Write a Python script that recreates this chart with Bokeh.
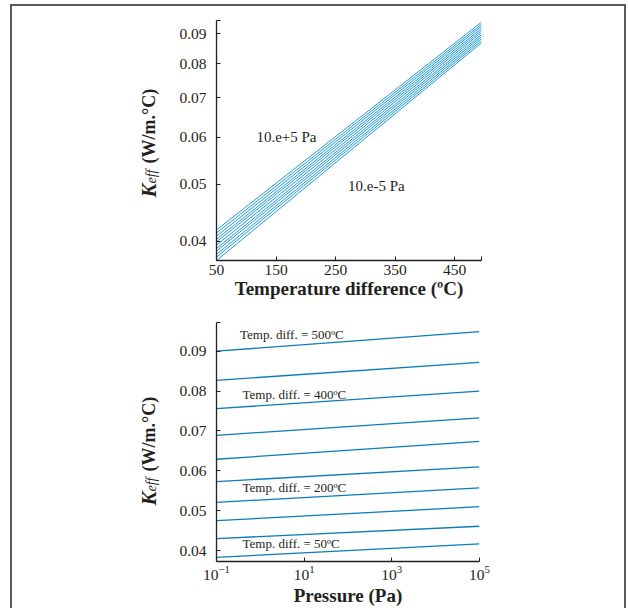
from bokeh.plotting import figure
from bokeh.models import (Range1d, FixedTicker, PrintfTickFormatter, Label,
                          ColumnDataSource)
from bokeh.layouts import column, row
from bokeh.embed import file_html
from bokeh.resources import INLINE

# ---------------- data ----------------
# Top panel: Keff vs temperature difference, one line per pressure (10^-5 .. 10^5 Pa)
pressure_exponents = [-5, -4, -3, -2, -1, 0, 1, 2, 3, 4, 5]
temp_start = 50
temp_end = 495
k_at_temp_start = [0.0371, 0.0376, 0.0380, 0.0385, 0.0389, 0.0394,
                   0.0399, 0.0403, 0.0408, 0.0413, 0.0418]
k_at_temp_end = [0.0868, 0.0875, 0.0882, 0.0889, 0.0896, 0.0904,
                 0.0911, 0.0918, 0.0926, 0.0933, 0.0941]
top_x_ticks = [50, 150, 250, 350, 450]
k_ticks = [0.04, 0.05, 0.06, 0.07, 0.08, 0.09]

# Bottom panel: Keff vs pressure, one line per temperature difference
temp_diffs = [500, 450, 400, 350, 300, 250, 200, 150, 100, 50]
pressure_start = 0.1
pressure_end = 1e5
k_at_p_start = [0.0900, 0.0827, 0.0756, 0.0689, 0.0629, 0.0573, 0.0521, 0.0475, 0.0430, 0.0383]
k_at_p_end = [0.0949, 0.0872, 0.0800, 0.0733, 0.0674, 0.0610, 0.0557, 0.0510, 0.0461, 0.0417]
pressure_ticks = [0.1, 10, 1000, 100000]
labelled_temps = [500, 400, 200, 50]

# ---------------- style / layout ----------------
FONT = "Liberation Serif"
INK = "#231f20"
TOP_LINE = "#1f9ad6"
BOT_LINE = "#0a7cbd"
TITLE_W = 160          # width of the strip that holds the rotated y titles
TOP_H = 299
BOT_H = 303


def style_axes(p):
    p.grid.visible = False
    p.outline_line_color = None
    p.background_fill_color = "white"
    p.border_fill_color = "white"
    for ax in p.axis:
        ax.axis_line_color = INK
        ax.axis_line_width = 1.3
        ax.major_tick_line_color = INK
        ax.major_tick_line_width = 1
        ax.major_tick_in = 4
        ax.major_tick_out = 0
        ax.minor_tick_line_color = None
        ax.major_label_text_font = FONT
        ax.major_label_text_font_size = "15.5px"
        ax.major_label_text_color = INK
        ax.axis_label_text_font = FONT
        ax.axis_label_text_font_size = "19px"
        ax.axis_label_text_font_style = "bold"
        ax.axis_label_text_color = INK
    p.xaxis.major_label_standoff = 4
    p.xaxis.axis_label_standoff = 0
    p.yaxis.major_label_standoff = 10


def title_strip(height, y0):
    # its frame is aligned with the neighbouring plot's frame by the row layout
    s = figure(width=TITLE_W, height=height, output_backend="svg", toolbar_location=None,
               x_range=Range1d(0, 1), y_range=Range1d(0, 1),
               x_axis_location=None, y_axis_location=None,
               min_border_left=0, min_border_right=0, min_border_top=0, min_border_bottom=0)
    s.grid.visible = False
    s.outline_line_color = None
    s.background_fill_color = "white"
    s.border_fill_color = "white"
    common = dict(x_units="screen", y_units="screen", angle=90, angle_units="deg",
                  text_font=FONT, text_color=INK, text_align="left",
                  text_baseline="alphabetic")
    x0 = 136
    s.add_layout(Label(x=x0, y=y0, text="K", text_font_style="bold italic",
                       text_font_size="21px", **common))
    s.add_layout(Label(x=x0 + 3, y=y0 + 14, text="eff", text_font_style="italic",
                       text_font_size="14px", **common))
    s.add_layout(Label(x=x0, y=y0 + 34, text="(W/m.\u00b0C)", text_font_style="bold",
                       text_font_size="18px", **common))
    return s


# ---------------- top panel ----------------
p1 = figure(width=612 - TITLE_W, height=TOP_H, output_backend="svg", toolbar_location=None,
            y_axis_type="log",
            x_range=Range1d(temp_start, temp_end), y_range=Range1d(0.0371, 0.0947),
            min_border_left=44, min_border_right=143,
            min_border_top=14, min_border_bottom=45)
src1 = ColumnDataSource(dict(
    xs=[[temp_start, temp_end] for _ in pressure_exponents],
    ys=[[a, b] for a, b in zip(k_at_temp_start, k_at_temp_end)]))
p1.multi_line("xs", "ys", source=src1, line_color=TOP_LINE, line_width=1)
style_axes(p1)
p1.xaxis.ticker = FixedTicker(ticks=top_x_ticks + [temp_end])
p1.xaxis.major_label_overrides = {temp_end: ""}
p1.yaxis.ticker = FixedTicker(ticks=k_ticks + [0.0947])
p1.yaxis.formatter = PrintfTickFormatter(format="%.2f")
p1.yaxis.major_label_overrides = {0.0947: ""}
p1.xaxis.axis_label = "Temperature difference (\u00baC)"
p1.add_layout(Label(x=117, y=0.0602, text="10.e+5 Pa", text_font=FONT,
                    text_font_size="15px", text_color=INK, text_baseline="middle"))
p1.add_layout(Label(x=271, y=0.0497, text="10.e-5 Pa", text_font=FONT,
                    text_font_size="15px", text_color=INK, text_baseline="middle"))

# ---------------- bottom panel ----------------
p2 = figure(width=612 - TITLE_W, height=BOT_H, output_backend="svg", toolbar_location=None,
            x_axis_type="log",
            x_range=Range1d(pressure_start, pressure_end), y_range=Range1d(0.03726, 0.0972),
            min_border_left=44, min_border_right=145,
            min_border_top=17, min_border_bottom=45)
src2 = ColumnDataSource(dict(
    xs=[[pressure_start, pressure_end] for _ in temp_diffs],
    ys=[[a, b] for a, b in zip(k_at_p_start, k_at_p_end)]))
p2.multi_line("xs", "ys", source=src2, line_color=BOT_LINE, line_width=1.3)
style_axes(p2)
p2.xaxis.axis_label_standoff = 2
p2.xaxis.ticker = FixedTicker(ticks=pressure_ticks)
p2.yaxis.ticker = FixedTicker(ticks=k_ticks + [0.0972])
p2.yaxis.formatter = PrintfTickFormatter(format="%.2f")
p2.yaxis.major_label_overrides = {0.0972: ""}
p2.xaxis.axis_label = "Pressure (Pa)"

label_pos = {500: (0.3435, 0.0941), 400: (0.392, 0.0792),
             200: (0.392, 0.0559), 50: (0.392, 0.0417)}
for t in labelled_temps:
    lx, ly = label_pos[t]
    p2.add_layout(Label(x=lx, y=ly, text="Temp. diff. = %d\u00baC" % t, text_font=FONT,
                        text_font_size="13px", text_color=INK, text_baseline="middle"))

layout = column(row(title_strip(TOP_H, 63), p1, spacing=0),
                row(title_strip(BOT_H, 56), p2, spacing=0),
                spacing=0,
                styles={"margin-left": "10px", "margin-top": "4px",
                        "border-left": "2px solid #5a5a5a",
                        "border-top": "2px solid #5a5a5a",
                        "border-right": "2px solid #5a5a5a"})

open("out.html", "w").write(file_html(layout, INLINE))
